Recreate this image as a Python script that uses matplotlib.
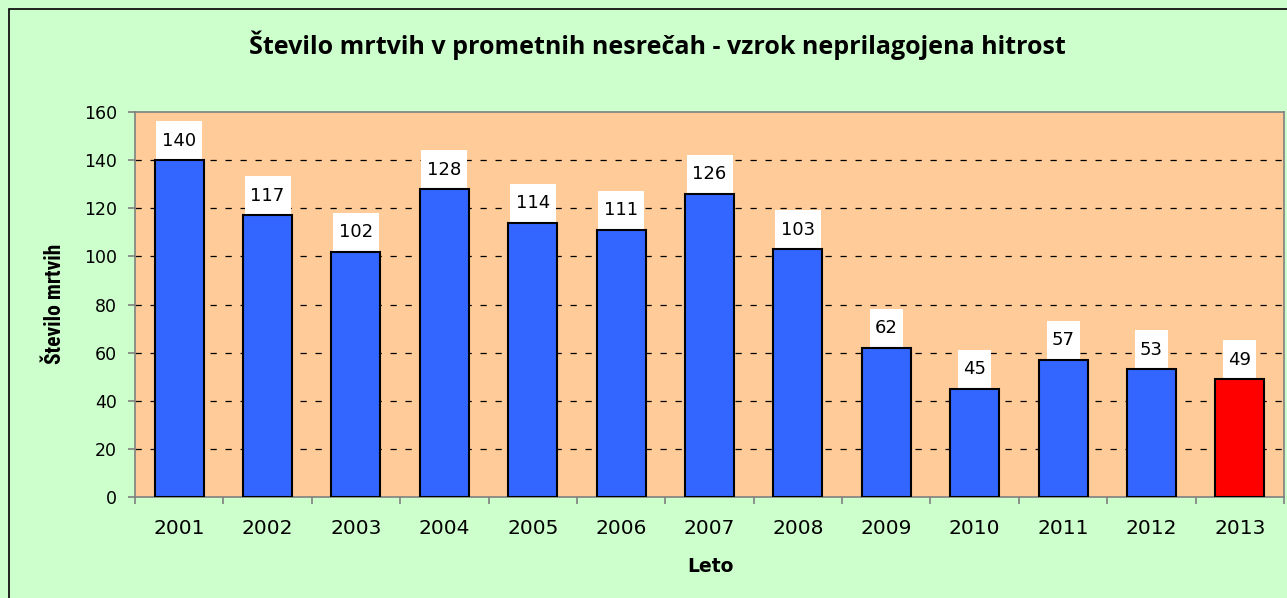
import matplotlib
matplotlib.use("Agg")
import matplotlib.pyplot as plt
from matplotlib.patches import Rectangle
import numpy as np

years = ["2001", "2002", "2003", "2004", "2005", "2006", "2007",
         "2008", "2009", "2010", "2011", "2012", "2013"]
deaths = [140, 117, 102, 128, 114, 111, 126, 103, 62, 45, 57, 53, 49]
bar_colors = ["#3366FF"] * 12 + ["#FF0000"]

W, H = 1287, 598
fig = plt.figure(figsize=(W / 100, H / 100), dpi=100)
fig.patch.set_facecolor("#CCFFCC")

# outer chart border
fig.patches.append(Rectangle((8.5 / W, -0.05), 1.1, (H - 9) / H + 0.05,
                             transform=fig.transFigure, fill=False,
                             edgecolor="black", linewidth=1.2, zorder=0))

left, right, top, bottom = 135, 1284, 112, 497
ax = fig.add_axes([left / W, 1 - bottom / H, (right - left) / W, (bottom - top) / H])
ax.set_facecolor("#FFCC99")

x = np.arange(len(years))
bars = ax.bar(x, deaths, width=0.555, color=bar_colors, edgecolor="black",
              linewidth=1.5, zorder=3)

ax.set_xlim(-0.5, len(years) - 0.5)
ax.set_ylim(0, 160)
ax.set_yticks(range(0, 161, 20))
ax.set_xticks(x)
ax.set_xticklabels(years)
ax.set_xticks(np.arange(-0.5, len(years), 1.0), minor=True)

for y in range(20, 160, 20):
    ax.axhline(y, color="black", linewidth=0.9, linestyle=(0, (5, 7)), zorder=1)

for s in ax.spines.values():
    s.set_color("#808080")
    s.set_linewidth(1.2)

ax.tick_params(axis="y", length=5, width=1.2, color="#808080", pad=8,
               labelsize=12.5, labelcolor="black")
ax.tick_params(axis="x", which="major", length=0, pad=16, labelsize=14.5)
ax.tick_params(axis="x", which="minor", length=5, width=1.2, color="#808080")

# value labels in white boxes sitting on top of each bar
px_per_cat = (right - left) / len(years)
px_per_unit = (bottom - top) / 160.0
box_h = 39 / px_per_unit
for xi, v in zip(x, deaths):
    lab = str(v)
    bw = (len(lab) * 13 + 7) / px_per_cat
    ax.add_patch(Rectangle((xi - bw / 2, v), bw, box_h, facecolor="white",
                           edgecolor="none", zorder=2))
    ax.text(xi, v + box_h / 2, lab, ha="center", va="center",
            fontsize=13, zorder=4)

fig.text(657 / W, 1 - 45 / H,
         "Število mrtvih v prometnih nesrečah - vzrok neprilagojena hitrost",
         ha="center", va="center", fontsize=18, fontweight="bold",
         family="Open Sans")
fig.text(710 / W, 1 - 566 / H, "Leto", ha="center", va="center",
         fontsize=13.5, fontweight="bold")
fig.text(55 / W, 1 - 304 / H, "Število mrtvih", ha="center", va="center",
         rotation=90, fontsize=15.5, fontweight="bold", family="Roboto Condensed")

fig.savefig("out.png", dpi=100, facecolor=fig.get_facecolor())
